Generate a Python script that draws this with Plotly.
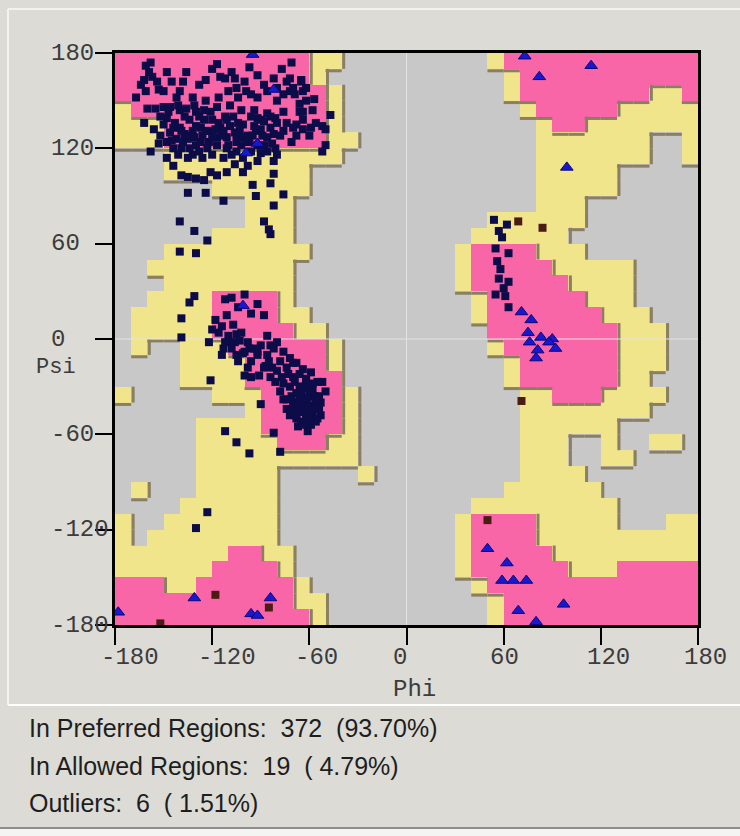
import plotly.graph_objects as go

# ---------------------------------------------------------------- data ----
PHI_RANGE = [-180, 180]
PSI_RANGE = [-180, 180]
TICKS = [-180, -120, -60, 0, 60, 120, 180]
CELL = 10  # degrees per map cell

# Ramachandran region map: one entry per 10-degree psi band, from +180 down
# to -180.  Run-length tokens along phi (-180 -> +180):
#   '.' = disallowed, 'a' = allowed, 'P' = preferred
REGION_ROWS = [
    "P12 a2 .9 a1 P12",                       # 170..180
    "P12 a1 .11 a1 P11",                      # 160..170
    "P13 a1 .10 a1 P8 a2 P1",                 # 150..160
    "a1 P12 a1 .11 a1 P5 a5",                 # 140..150
    "a3 P10 a1 .12 a1 P2 a7",                 # 130..140
    "a3 P10 a2 .11 a7 .2 a1",                 # 120..130
    ".3 a11 .12 a7 .2 a1",                    # 110..120
    ".3 a9 .14 a5 .5",                        # 100..110
    ".6 a6 .14 a5 .5",                        # 90..100
    ".8 a3 .15 a3 .7",                        # 80..90
    ".8 a3 .12 a6 .7",                        # 70..80
    ".6 a5 .11 a6 .8",                        # 60..70
    ".3 a9 .9 a1 P4 a3 .7",                   # 50..60
    ".2 a9 .10 a1 P5 a5 .4",                  # 40..50
    ".3 a8 .10 a1 P6 a4 .4",                  # 30..40
    ".2 a4 P4 a1 .11 a1 P6 a3 .4",            # 20..30
    ".1 a5 P4 a2 .10 a1 P7 a3 .3",            # 10..20
    ".1 a5 P5 a2 .10 P8 a3 .2",               # 0..10
    ".1 a1 .2 a3 P6 a1 .9 a1 P7 a3 .2",       # -10..0
    ".4 a4 P5 a1 .10 a1 P6 a3 .2",            # -20..-10
    ".4 a4 P6 .10 a1 P6 a2 .3",               # -30..-20
    "a1 .5 a3 P5 a1 .10 a2 P3 a4 .2",         # -40..-30
    ".8 a1 P5 a1 .10 a8 .3",                  # -50..-40
    ".5 a4 P5 a1 .10 a6 .5",                  # -60..-50
    ".5 a5 P3 a2 .10 a3 .2 a1 .2 a2 .1",      # -70..-60
    ".5 a10 .10 a3 .2 a2 .4",                 # -80..-70
    ".5 a5 .5 a1 .9 a4 .7",                   # -90..-80
    ".1 a1 .3 a5 .14 a6 .6",                  # -100..-90
    ".4 a6 .12 a9 .5",                        # -110..-100
    "a1 .2 a7 .11 a1 P4 a5 .3 a2",            # -120..-110
    "a1 .1 a8 .11 a1 P4 a10",                 # -130..-120
    "a7 P2 a2 .10 a1 P5 a9",                  # -140..-130
    "a6 P4 a1 .10 a1 P6 a3 P5",               # -150..-140
    "P3 a2 P6 a1 .10 a1 P13",                 # -160..-150
    "P11 a2 .10 a1 P12",                      # -170..-160
    "P12 a1 .10 a1 P12",                      # -180..-170
]

# (phi, psi) of non-glycine, non-outlier residues
GENERAL = [
    # beta / PPII region
    (-161, 172), (-159, 168), (-162, 163), (-157, 165), (-154, 162), (-153, 157),
    (-161, 156), (-167, 152), (-160, 145), (-162, 136), (-158, 118), (-145, 162),
    (-136, 168), (-124, 163), (-117, 173), (-115, 165), (-112, 164), (-106, 164),
    (-105, 158), (-99, 156), (-97, 171), (-92, 152), (-86, 156), (-80, 158),
    (-77, 170), (-71, 174), (-72, 156), (-69, 154), (-65, 163), (-62, 158),
    (-66, 143), (-68, 135), (-64, 132), (-76, 143), (-81, 139), (-84, 133),
    (-88, 137), (-92, 139), (-101, 135), (-107, 140), (-111, 138), (-115, 133),
    (-121, 143), (-125, 138), (-130, 143), (-136, 145), (-142, 152), (-146, 146),
    (-150, 146), (-148, 139), (-144, 133), (-140, 133), (-137, 129), (-132, 131),
    (-127, 133), (-121, 131), (-117, 127), (-111, 127), (-105, 129), (-101, 127),
    (-97, 124), (-92, 122), (-88, 122), (-82, 129), (-76, 131), (-70, 133),
    (-71, 124), (-81, 120), (-80, 116), (-82, 112), (-92, 112), (-101, 114),
    (-105, 118), (-111, 120), (-117, 122), (-123, 120), (-130, 122), (-134, 120),
    (-139, 120), (-148, 124), (-148, 114), (-144, 109), (-139, 103), (-135, 102),
    (-130, 101), (-125, 100), (-121, 105), (-117, 103), (-111, 105), (-101, 105),
    (-95, 97), (-93, 90), (-84, 98), (-82, 104), (-76, 91), (-82, 84),
    (-88, 74), (-85, 69), (-84, 66), (-113, 87), (-124, 92), (-135, 92),
    (-140, 74), (-131, 68), (-123, 62), (-140, 55), (-130, 54),
    (-64, 156), (-57, 151), (-64, 143), (-58, 144), (-47, 141), (-59, 133),
    (-52, 134), (-50, 132), (-50, 122), (-52, 118), (-65, 162),
    (-150, 135), (-146, 130), (-142, 126), (-138, 124), (-134, 128), (-130, 134),
    (-126, 128), (-122, 124), (-118, 132), (-114, 128), (-110, 122), (-106, 130),
    (-102, 122), (-98, 128), (-94, 134), (-90, 138), (-96, 140), (-104, 136),
    (-112, 140), (-120, 138), (-128, 140), (-134, 138), (-140, 144), (-152, 128),
    (-156, 132), (-144, 120), (-132, 116), (-126, 114), (-108, 116), (-96, 118),
    (-86, 118), (-90, 132), (-84, 140), (-80, 136), (-78, 128), (-74, 136),
    (-68, 128), (-64, 138), (-60, 128), (-56, 136), (-62, 150), (-66, 148),
    (-70, 158), (-74, 162), (-82, 164), (-88, 160), (-92, 166), (-100, 162),
    (-108, 168), (-120, 170), (-128, 160), (-138, 162), (-148, 168), (-158, 174),
    (-164, 160), (-150, 156), (-140, 156), (-132, 152), (-124, 150), (-116, 152),
    (-110, 156), (-104, 152), (-96, 154), (-80, 150), (-76, 154), (-72, 164),
    (-147, 143), (-143, 136), (-139, 131), (-135, 126), (-131, 127), (-127, 124),
    (-124, 131), (-120, 127), (-116, 136), (-113, 131), (-109, 134), (-105, 124),
    (-103, 131), (-99, 124), (-95, 128), (-93, 131), (-89, 128), (-86, 127),
    (-83, 123), (-86, 142), (-94, 144), (-102, 144), (-109, 147), (-117, 146),
    (-125, 144), (-131, 147), (-137, 140), (-141, 147), (-145, 125), (-152, 140),
    (-155, 145), (-128, 118), (-120, 116), (-113, 114), (-106, 110), (-98, 109),
    (-90, 117), (-135, 114), (-141, 116), (-153, 123),
    # right-handed helix region
    (-131, 27), (-134, 23), (-112, 25), (-88, 15), (-139, 13), (-139, 1),
    (-111, 15), (-107, 9), (-105, 3), (-86, 2),
    (-113, -6), (-109, -2), (-105, -10), (-101, -9), (-97, -6), (-92, -8),
    (-84, -4), (-80, -2), (-76, -8), (-72, -12), (-68, -15), (-64, -19),
    (-62, -25), (-121, -26), (-100, -23), (-96, -24), (-91, -23), (-87, -17),
    (-83, -18), (-78, -33), (-76, -38), (-72, -48), (-68, -50), (-64, -40),
    (-62, -50), (-90, -41), (-112, -58), (-105, -65), (-97, -72), (-82, -59),
    (-78, -71), (-123, -109), (-130, -119),
    (-59, -21), (-55, -27), (-61, -31), (-57, -36), (-53, -40), (-64, -42),
    (-59, -46), (-55, -50), (-59, -54), (-53, -48), (-50, -33), (-52, -27),
    (-118, 12), (-114, 8), (-110, 2), (-106, -2), (-102, 4), (-98, -2),
    (-94, -6), (-90, -4), (-86, -10), (-82, -6), (-78, -14), (-74, -18),
    (-70, -24), (-66, -22), (-72, -30), (-68, -34), (-64, -30), (-62, -38),
    (-66, -44), (-60, -42), (-58, -48), (-62, -54), (-56, -52), (-64, -46),
    (-70, -40), (-68, -48), (-60, -34), (-58, -28), (-54, -36), (-56, -42),
    (-66, -36), (-74, -44), (-76, -28), (-80, -20), (-84, -24), (-88, -18),
    (-92, -10), (-96, -14), (-100, -8), (-104, -14), (-108, -6), (-112, -2),
    (-116, 4), (-120, 6), (-122, -2), (-104, 20), (-96, 16), (-92, 22),
    (-108, 26), (-100, 28),
    (-73, -22), (-69, -27), (-65, -33), (-61, -37), (-57, -44), (-63, -45),
    (-67, -40), (-71, -36), (-65, -52), (-60, -50), (-54, -44), (-58, -32),
    (-62, -27), (-66, -30), (-70, -44), (-74, -38), (-56, -38), (-61, -58),
    (-67, -55), (-70, -15), (-77, -24), (-81, -27), (-85, -14), (-98, -18),
    (-103, -1), (-114, -10),
    # left-handed region
    (54, 75), (62, 72), (59, 64), (57, 68), (55, 57), (63, 54), (56, 49),
    (63, 36), (57, 38), (55, 28), (61, 27), (63, 20), (58, 44), (60, 32),
]

# (phi, psi) of glycine residues
GLYCINE = [
    (-95, 179), (-82, 157), (-92, 123), (-99, 117), (-101, 21),
    (73, 178), (82, 165), (114, 172), (99, 108),
    (71, 17), (77, 12), (75, 4), (83, 1), (90, 0), (88, -2), (92, -6),
    (81, -7), (80, -12), (76, -2),
    (62, -141), (59, -152), (66, -152), (74, -152), (69, -171), (97, -167),
    (80, -178), (50, -132),
    (-178, -172), (-131, -163), (-96, -173), (-92, -174), (-84, -163),
]

# (phi, psi) of proline / outlier residues
PRO_OUTLIER = [
    (69, 74), (84, 70), (71, -39), (50, -114),
    (-118, -161), (-85, -169), (-152, -179),
]

STAT_LABELS = ["In Preferred Regions", "In Allowed Regions", "Outliers"]
STAT_COUNTS = [372, 19, 6]

# ------------------------------------------------------------- styling ----
GRAY = "#c8c8c9"
YELLOW = "#f1e58b"
PINK = "#f966a8"
SHADOW = "#8a7f61"
PAGE = "#dcdbd6"
MONO = "Liberation Mono, Courier New, monospace"
TICK_FONT = dict(family=MONO, size=24, color="#3c3c3c")
TEXT_FONT = dict(family="Liberation Sans, Arial, sans-serif", size=25, color="#1e1e1e")

# ---------------------------------------------------------- build grid ----
LEVEL = {".": 0, "a": 1, "P": 2}
n_phi = (PHI_RANGE[1] - PHI_RANGE[0]) // CELL
grid = []
for row in REGION_ROWS:
    cells = []
    for tok in row.split():
        cells += [LEVEL[tok[0]]] * int(tok[1:])
    assert len(cells) == n_phi, row
    grid.append(cells)

phi_edges = [PHI_RANGE[0] + CELL * i for i in range(n_phi + 1)]
psi_edges = [PSI_RANGE[1] - CELL * j for j in range(len(grid) + 1)]
phi_centers = [e + CELL / 2 for e in phi_edges[:-1]]
psi_centers = [e - CELL / 2 for e in psi_edges[:-1]]

fig = go.Figure()

fig.add_trace(go.Heatmap(
    x=phi_centers, y=psi_centers, z=grid, zmin=0, zmax=2,
    colorscale=[[0, GRAY], [0.333, GRAY], [0.333, YELLOW], [0.667, YELLOW],
                [0.667, PINK], [1, PINK]],
    showscale=False, hoverinfo="skip",
))

# drop shadows below and to the right of each raised region edge
off = 1.2
sx, sy = [], []
for r in range(len(grid) - 1):
    for c in range(n_phi):
        if grid[r][c] > grid[r + 1][c]:
            yb = psi_edges[r + 1] - off
            sx += [phi_edges[c], phi_edges[c + 1], None]
            sy += [yb, yb, None]
for r in range(len(grid)):
    for c in range(n_phi - 1):
        if grid[r][c] > grid[r][c + 1]:
            xb = phi_edges[c + 1] + off
            sx += [xb, xb, None]
            sy += [psi_edges[r], psi_edges[r + 1], None]
fig.add_trace(go.Scatter(x=sx, y=sy, mode="lines", line=dict(color=SHADOW, width=3),
                         hoverinfo="skip"))

# phi = 0 and psi = 0 guide lines
fig.add_trace(go.Scatter(x=PHI_RANGE, y=[0, 0], mode="lines",
                         line=dict(color="#e2e2e2", width=1), hoverinfo="skip"))
fig.add_trace(go.Scatter(x=[0, 0], y=PSI_RANGE, mode="lines",
                         line=dict(color="#e2e2e2", width=1), hoverinfo="skip"))

fig.add_trace(go.Scatter(
    x=[p[0] for p in GENERAL], y=[p[1] for p in GENERAL], mode="markers",
    marker=dict(symbol="square", size=8, color="#0c0c48", line=dict(width=0)),
    name="General",
))
fig.add_trace(go.Scatter(
    x=[p[0] for p in PRO_OUTLIER], y=[p[1] for p in PRO_OUTLIER], mode="markers",
    marker=dict(symbol="square", size=8, color="#4a1c14", line=dict(width=0)),
    name="Pro / outlier",
))
fig.add_trace(go.Scatter(
    x=[p[0] for p in GLYCINE], y=[p[1] for p in GLYCINE], mode="markers",
    marker=dict(symbol="triangle-up", size=11, color="#1818d0",
                line=dict(color="#08087a", width=1)),
    name="Glycine",
))

axis_common = dict(
    tickvals=TICKS, ticks="outside", ticklen=17, tickwidth=2, tickcolor="#000000",
    showticklabels=False, showline=True, linewidth=3, linecolor="#000000",
    mirror=True, showgrid=False, zeroline=False, fixedrange=True,
)
fig.update_xaxes(range=PHI_RANGE, **axis_common)
fig.update_yaxes(range=PSI_RANGE, **axis_common)

W, H = 740, 836
L, R, T, B = 115, 42, 53, 211
pw, ph = W - L - R, H - T - B


def px(x):
    return (x - L) / pw


def py(y):
    return (H - B - y) / ph


annotations = []
# tick labels, left-aligned like the original applet
for t in TICKS:
    annotations.append(dict(text=str(t), x=t, xref="x", xanchor="left", xshift=-16,
                            y=py(657), yref="paper", yanchor="middle",
                            showarrow=False, font=TICK_FONT))
    annotations.append(dict(text=str(t), x=px(50), xref="paper", xanchor="left",
                            y=t, yref="y", yanchor="middle", borderpad=0,
                            showarrow=False, font=TICK_FONT))
annotations += [
    dict(text="Phi", x=0, xref="x", xanchor="left", xshift=-16, y=py(690), yref="paper",
         yanchor="middle", showarrow=False, font=TICK_FONT),
    dict(text="Psi", x=px(35), xref="paper", xanchor="left", y=py(367), yref="paper",
         yanchor="middle", showarrow=False, borderpad=0,
         font=dict(family=MONO, size=22, color="#3c3c3c")),
]
total = sum(STAT_COUNTS)
nb = "\u00a0"
for i, (lab, cnt) in enumerate(zip(STAT_LABELS, STAT_COUNTS)):
    pct = f"{100 * cnt / total:5.2f}".replace(" ", nb)
    annotations.append(dict(
        text=f"{lab}:{nb}{nb}{cnt}{nb}{nb}({pct}%)", x=px(27), xref="paper",
        xanchor="left", y=py(728 + 37.5 * i), yref="paper", yanchor="middle",
        showarrow=False, font=TEXT_FONT,
    ))

shapes = [
    dict(type="line", xref="paper", yref="paper", x0=px(8), x1=px(740), y0=py(705), y1=py(705),
         line=dict(color="#ffffff", width=2)),
    dict(type="line", xref="paper", yref="paper", x0=px(8), x1=px(8), y0=py(9), y1=py(705),
         line=dict(color="#f2f2ee", width=2)),
    dict(type="line", xref="paper", yref="paper", x0=px(8), x1=px(740), y0=py(9), y1=py(9),
         line=dict(color="#f2f2ee", width=2)),
    dict(type="line", xref="paper", yref="paper", x0=px(0), x1=px(740), y0=py(828), y1=py(828),
         line=dict(color="#8e8e8e", width=2)),
    dict(type="rect", xref="paper", yref="paper", x0=px(0), x1=px(740), y0=py(829), y1=py(836),
         fillcolor="#f4f4f2", line=dict(width=0)),
]

fig.update_layout(
    width=W, height=H, margin=dict(l=L, r=R, t=T, b=B),
    paper_bgcolor=PAGE, plot_bgcolor=GRAY, showlegend=False,
    annotations=annotations, shapes=shapes,
)

fig.write_html("out.html")
